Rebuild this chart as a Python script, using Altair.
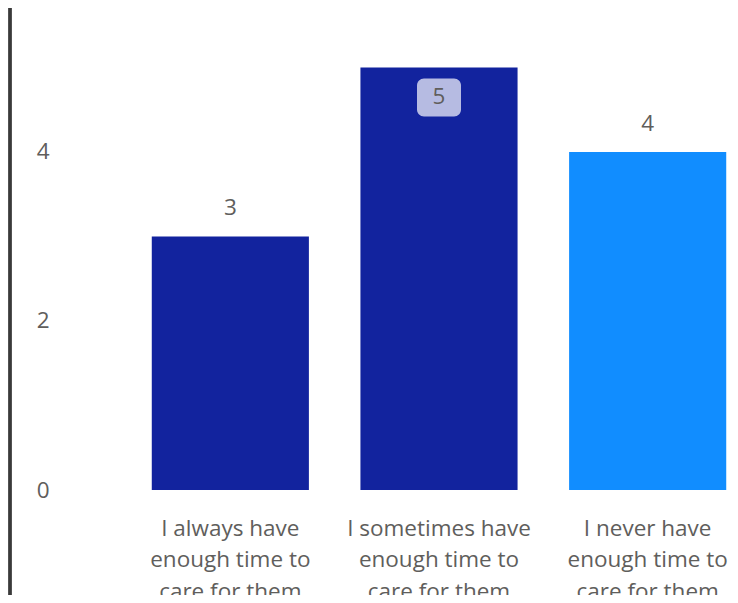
import altair as alt
import pandas as pd

categories = [
    "I always have\nenough time to\ncare for them",
    "I sometimes have\nenough time to\ncare for them",
    "I never have\nenough time to\ncare for them",
]
values = [3, 5, 4]
colors = ["#12239E", "#12239E", "#118DFF"]
label_pos = ["outside", "inside", "outside"]
y_ticks = [0, 2, 4]

df = pd.DataFrame({"cat": categories, "value": values, "color": colors, "pos": label_pos})

FONT = "Open Sans"
GREY = "#605E5C"
FS = 22.5

x = alt.X(
    "cat:N",
    sort=categories,
    title=None,
    scale=alt.Scale(range=[0, 626], paddingInner=0.247, paddingOuter=0.1235),
    axis=alt.Axis(
        labelAngle=0,
        labelExpr="split(datum.label, '\\n')",
        labelLineHeight=31.5,
        labelFontSize=FS,
        labelFont=FONT,
        labelColor=GREY,
        labelPadding=27,
        labelBaseline="top",
        labelLimit=400,
        ticks=False,
        domain=False,
    ),
)
y = alt.Y(
    "value:Q",
    title=None,
    scale=alt.Scale(domain=[0, 5.846], nice=False),
    axis=alt.Axis(
        values=y_ticks,
        format="d",
        grid=False,
        ticks=False,
        domain=False,
        labelFontSize=FS,
        labelFont=FONT,
        labelColor=GREY,
        labelPadding=77,
    ),
)

base = alt.Chart(df)

bars = base.mark_bar().encode(x=x, y=y, color=alt.Color("color:N", scale=None))

outside = base.transform_filter(alt.datum.pos == "outside").mark_text(
    dy=-28, fontSize=FS, font=FONT, color=GREY
).encode(x=alt.X("cat:N", sort=categories), y="value:Q", text="value:Q")

box = base.transform_filter(alt.datum.pos == "inside").mark_bar(
    width=44, cornerRadius=7, color="#B6BBE2", yOffset=11, y2Offset=49
).encode(x=alt.X("cat:N", sort=categories), y="value:Q", y2="value:Q")

inside = base.transform_filter(alt.datum.pos == "inside").mark_text(
    dy=30, fontSize=FS, font=FONT, color=GREY
).encode(x=alt.X("cat:N", sort=categories), y="value:Q", text="value:Q")

border = base.mark_rule(color="#3a3a3a", strokeWidth=3).encode(
    x=alt.value(-116), y=alt.value(0), y2=alt.value(620)
)

chart = (
    alt.layer(bars, outside, box, inside, border)
    .properties(
        width=604,
        height=494,
        autosize=alt.AutoSizeParams(type="none"),
        padding={"left": 118, "top": -12, "right": 0, "bottom": 105},
        background="white",
    )
    .configure_view(stroke=None)
)

chart.save("out.html", embed_options={"renderer": "svg", "actions": False})
